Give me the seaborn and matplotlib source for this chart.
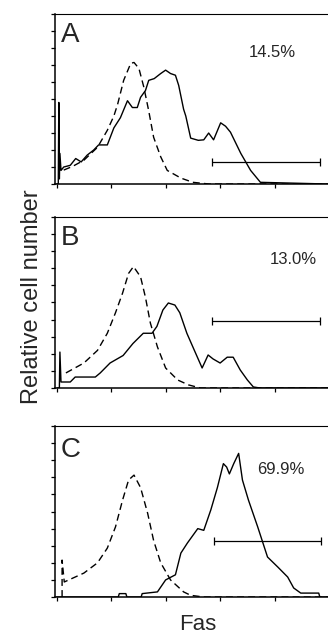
"""Fas expression histograms (flow cytometry), three stacked panels."""

import matplotlib
matplotlib.use("Agg")
import matplotlib.pyplot as plt
import seaborn as sns

# x in log decades of fluorescence, y in relative cell number (0-100)
a_ctrl_x = [0.13, 0.30, 0.50, 0.75, 0.93, 1.05, 1.12, 1.23, 1.36, 1.42, 1.51, 1.60, 1.69, 1.78, 1.91, 2.03, 2.28, 2.50, 2.80, 4.98]
a_ctrl_y = [8.2, 10.5, 14, 21.6, 31.6, 40, 47, 61, 71, 71.5, 68, 57, 43, 27.5, 16, 8, 3.5, 1, 0, 0]
a_fas_x = [0.00, 0.03, 0.04, 0.05, 0.06, 0.08, 0.13, 0.25, 0.35, 0.45, 0.56, 0.68, 0.77, 0.93, 1.05, 1.17,
           1.30, 1.39, 1.48, 1.54, 1.63, 1.69, 1.79, 1.91, 2.00, 2.09, 2.18, 2.24, 2.33, 2.37, 2.46, 2.60,
           2.70, 2.79, 2.88, 3.01, 3.10, 3.19, 3.38, 3.56, 3.74, 4.98]
a_fas_y = [0, 0, 48, 3, 18, 8, 10, 11, 15, 13, 17, 20, 23, 23, 33, 39,
           49, 45, 45, 51, 55, 61, 62, 65, 67, 65, 64, 58, 44, 40, 27, 25.7,
           26, 30, 26, 36, 34, 30.5, 18, 8, 1, 0]

b_ctrl_x = [0.17, 0.50, 0.75, 0.93, 1.08, 1.21, 1.32, 1.41, 1.54, 1.63, 1.72, 1.85, 2.00, 2.22, 2.42, 2.64, 4.98]
b_ctrl_y = [8.8, 14.6, 22, 32, 44, 55.5, 67, 71, 65, 53, 38, 24, 11.7, 4.7, 1.8, 0, 0]
b_fas_x = [0.01, 0.05, 0.06, 0.08, 0.25, 0.34, 0.71, 0.80, 0.98, 1.22, 1.40, 1.59, 1.75, 1.84, 1.95, 2.05,
           2.17, 2.26, 2.39, 2.50, 2.67, 2.78, 2.87, 3.00, 3.13, 3.24, 3.37, 3.50, 3.61, 3.73, 4.98]
b_fas_y = [0, 0, 21, 3.5, 3.5, 6.4, 6.4, 8.8, 14.6, 19, 26, 32, 32, 36, 45.6, 49.7,
           48.5, 44, 32, 24, 11.7, 19.3, 17, 14.6, 18, 18, 10.5, 4.7, 0.6, 0, 0]

c_ctrl_x = [0.10, 0.10, 0.14, 0.50, 0.75, 0.93, 1.08, 1.21, 1.32, 1.42, 1.54, 1.67, 1.78, 1.91, 2.09, 2.33, 2.46, 2.70, 4.98]
c_ctrl_y = [0, 21.6, 8.8, 14, 20, 28.6, 41, 56.7, 68.4, 71.3, 64, 49, 33, 20, 10, 3, 1, 0, 0]
c_fas_x = [0.00, 1.13, 1.15, 1.27, 1.29, 1.55, 1.57, 1.85, 2.00, 2.18, 2.28, 2.40, 2.59, 2.70, 2.83, 2.95,
           3.06, 3.12, 3.17, 3.25, 3.34, 3.41, 3.52, 3.69, 3.87, 4.06, 4.24, 4.35, 4.48, 4.81, 4.83, 4.98]
c_fas_y = [0, 0, 2, 2, 0, 0, 2, 3, 10, 13, 25.7, 31.6, 40, 39, 51, 64,
           78, 76, 72, 78, 84, 68.4, 56.7, 41, 23.4, 17.5, 11.7, 5.3, 2.3, 2.3, 0, 0]

panel_letters = ["A", "B", "C"]
pct_labels = ["14.5%", "13.0%", "69.9%"]
pct_x = [3.95, 4.35, 4.11]
pct_y = [77.2, 74.9, 74.3]
gate_x = [(2.86, 4.84), (2.86, 4.84), (2.88, 4.86)]
gate_y = [12.9, 39.2, 32.7]
letter_top = [0.953, 0.953, 0.936]

ctrl_data = [(a_ctrl_x, a_ctrl_y), (b_ctrl_x, b_ctrl_y), (c_ctrl_x, c_ctrl_y)]
fas_data = [(a_fas_x, a_fas_y), (b_fas_x, b_fas_y), (c_fas_x, c_fas_y)]

sns.set_style("ticks")
plt.rcParams["font.family"] = ["Liberation Sans", "DejaVu Sans"]

fig = plt.figure(figsize=(3.28, 6.35), dpi=100)
# axes boxes in figure fractions (left, bottom, width, height)
boxes = [
    (0.1677, 0.7102, 0.8323, 0.2677),
    (0.1677, 0.3890, 0.8323, 0.2693),
    (0.1677, 0.0598, 0.8323, 0.2693),
]

for i, box in enumerate(boxes):
    ax = fig.add_axes(box)
    cx, cy = ctrl_data[i]
    fx, fy = fas_data[i]
    sns.lineplot(x=cx, y=cy, ax=ax, sort=False, estimator=None, color="black",
                 linewidth=1.0, dashes=False)
    ax.lines[-1].set_dashes((5, 3))
    sns.lineplot(x=fx, y=fy, ax=ax, sort=False, estimator=None, color="black",
                 linewidth=1.0)

    g0, g1 = gate_x[i]
    gy = gate_y[i]
    ax.hlines(gy, g0, g1, color="black", linewidth=0.9)
    ax.vlines([g0, g1], gy - 2.2, gy + 2.2, color="black", linewidth=0.9)

    ax.text(pct_x[i], pct_y[i], pct_labels[i], ha="center", va="center", fontsize=12)
    ax.text(0.022, letter_top[i], panel_letters[i], transform=ax.transAxes,
            ha="left", va="top", fontsize=20)

    ax.set_xlim(-0.03, 4.98)
    ax.set_ylim(0, 100)
    ax.set_xticks([0, 1, 2, 3, 4])
    ax.set_yticks(range(0, 101, 10))
    ax.set_xticklabels([])
    ax.set_yticklabels([])
    ax.tick_params(direction="out", length=3, width=0.9, color="black")
    ax.spines["right"].set_visible(False)
    for side in ("left", "bottom"):
        ax.spines[side].set_linewidth(1.1)
        ax.spines[side].set_color("black")
    ax.spines["top"].set_linewidth(0.8)
    ax.spines["top"].set_color("black")
    ax.set_xlabel("")
    ax.set_ylabel("")

fig.text(0.098, 0.533, "Relative cell number", rotation=90, ha="center", va="center", fontsize=17)
fig.text(0.604, 0.016, "Fas", ha="center", va="center", fontsize=16)

fig.savefig("out.png", dpi=100)
